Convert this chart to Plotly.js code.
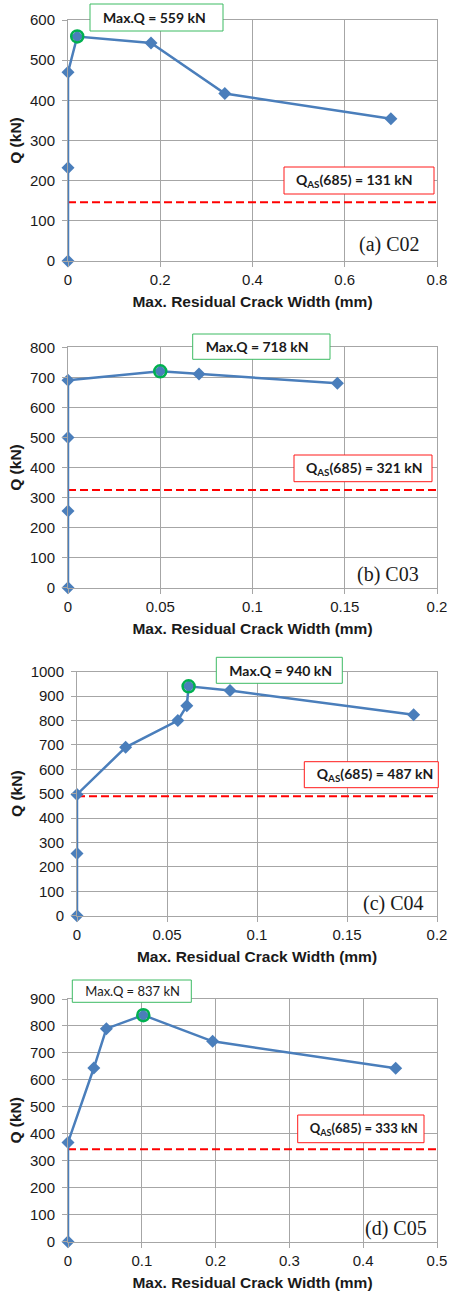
<!DOCTYPE html>
<html>
<head>
<meta charset="utf-8">
<script src="https://cdn.plot.ly/plotly-3.0.1.min.js"></script>
<style>html,body{margin:0;padding:0;background:#fff}#chart{width:449px;height:1293px}</style>
</head>
<body>
<div id="chart"></div>
<script>
// ---- data ----
const crackA = [0, 0, 0, 0.02, 0.18, 0.34, 0.70];
const loadA  = [0, 232, 470, 559, 543, 417, 354];
const crackB = [0, 0, 0, 0, 0.05, 0.071, 0.146];
const loadB  = [0, 255, 500, 690, 720, 711, 680];
const crackC = [0, 0, 0, 0.027, 0.056, 0.061, 0.062, 0.085, 0.187];
const loadC  = [0, 255, 497, 690, 800, 860, 940, 923, 824];
const crackD = [0, 0, 0.035, 0.052, 0.102, 0.196, 0.444];
const loadD  = [0, 368, 644, 790, 840, 743, 643];
const maxPtX = [0.02, 0.05, 0.062, 0.102];
const maxPtY = [559, 720, 940, 840];
const qasLine = [146, 325, 490, 343];
const xMax = [0.8, 0.2, 0.2, 0.5];
const yMax = [600, 800, 1000, 900];
const xStep = [0.2, 0.05, 0.05, 0.1];
const panelLabels = ['(a) C02', '(b) C03', '(c) C04', '(d) C05'];
const maxLabels = ['Max.Q = 559 kN', 'Max.Q = 718 kN', 'Max.Q = 940 kN', 'Max.Q = 837 kN'];
const qasLabels = ['Q<sub>AS</sub>(685) = 131 kN', 'Q<sub>AS</sub>(685) = 321 kN', 'Q<sub>AS</sub>(685) = 487 kN', 'Q<sub>AS</sub>(685) = 333 kN'];
const xTitle = 'Max. Residual Crack Width (mm)';
const yTitle = 'Q (kN)';

const crackSets = [crackA, crackB, crackC, crackD];
const loadSets = [loadA, loadB, loadC, loadD];

// ---- geometry (pixels) ----
const W = 449, H = 1293;
const px = v => v / W;
const py = v => 1 - v / H;
const plotL = [68, 68, 77, 68];
const plotR = 437;
const plotT = [20, 347.3, 671.7, 999];
const plotB = [261, 587.7, 915.7, 1241.7];
const maxBox = [[90,223,4,31],[192.7,330,334,359.3],[216.3,342.3,657.3,683.3],[72.3,191.3,980,1002.3]];
const maxPad = [10, 10, 10, 10];
const qasBox = [[284,434,167,194],[294,432,455,481.7],[304.3,438.3,761.7,787.7],[297.7,424,1115,1142.7]];
const qasPad = [9, 9, 9.5, 9];
const labelPos = [[422,244],[421,575],[426,903],[429,1228]];

const blue = '#4a7ebb';
const gridC = '#a6a6a6';
const sans = 'Liberation Sans, Arial, sans-serif';
const calib = 'Lato, Carlito, Calibri, sans-serif';

const traces = [];
const layout = {
  width: W, height: H,
  margin: {l:0, r:0, t:0, b:0},
  paper_bgcolor: '#fff', plot_bgcolor: '#fff',
  showlegend: false,
  annotations: [], shapes: []
};

for (let i = 0; i < 4; i++) {
  const n = i === 0 ? '' : String(i + 1);
  const xa = 'x' + n, ya = 'y' + n;
  traces.push({
    x: [0, xMax[i]], y: [qasLine[i], qasLine[i]], xaxis: xa, yaxis: ya,
    mode: 'lines', line: {color: '#ff0000', width: 2, dash: '8px,4px'}, hoverinfo: 'skip'
  });
  traces.push({
    x: crackSets[i], y: loadSets[i], xaxis: xa, yaxis: ya, cliponaxis: false,
    mode: 'lines+markers', line: {color: blue, width: 2.5},
    marker: {symbol: 'diamond', size: 10, color: blue}
  });
  traces.push({
    x: [maxPtX[i]], y: [maxPtY[i]], xaxis: xa, yaxis: ya, cliponaxis: false,
    mode: 'markers', marker: {symbol: 'circle-open', size: 12, color: '#00b050', line: {width: 2.5, color: '#00b050'}}
  });
  const common = {
    showgrid: true, gridcolor: gridC, gridwidth: 1,
    showline: true, linecolor: gridC, linewidth: 1, mirror: true,
    ticks: 'outside', ticklen: 5, tickcolor: gridC,
    tickfont: {family: sans, size: 15, color: '#1a1a1a'},
    zeroline: false, fixedrange: true, automargin: false
  };
  layout['xaxis' + n] = Object.assign({}, common, {
    domain: [px(plotL[i]), px(plotR)], anchor: ya,
    range: [0, xMax[i]], autorange: false, dtick: xStep[i], tick0: 0,
    title: {text: '<b>' + xTitle + '</b>', standoff: 9, font: {family: sans, size: 15.5, color: '#1a1a1a'}}
  });
  layout['yaxis' + n] = Object.assign({}, common, {
    domain: [py(plotB[i]), py(plotT[i])], anchor: xa,
    range: [0, yMax[i]], autorange: false, dtick: 100, tick0: 0, ticklabelstandoff: 4,
    title: {text: '<b>' + yTitle + '</b>', standoff: 4, font: {family: sans, size: 15.5, color: '#1a1a1a'}}
  });
  // panel label
  layout.annotations.push({
    xref: 'paper', yref: 'paper', x: px(labelPos[i][0]), y: py(labelPos[i][1]),
    text: panelLabels[i], showarrow: false, xanchor: 'right', yanchor: 'middle',
    font: {family: 'Liberation Serif, Times New Roman, serif', size: 20, color: '#1a1a1a'}
  });
  // boxed labels
  const mb = maxBox[i], qb = qasBox[i];
  layout.shapes.push({type: 'rect', xref: 'paper', yref: 'paper',
    x0: px(mb[0]), x1: px(mb[1]), y0: py(mb[3]), y1: py(mb[2]),
    line: {color: '#3dbb63', width: 1}, fillcolor: '#ffffff', layer: 'above',
    label: {text: i === 3 ? maxLabels[i] : '<b>' + maxLabels[i] + '</b>',
      textposition: 'middle left', padding: maxPad[i],
      font: {family: calib, size: i === 3 ? 13 : 14, color: '#1a1a1a'}}});
  layout.shapes.push({type: 'rect', xref: 'paper', yref: 'paper',
    x0: px(qb[0]), x1: px(qb[1]), y0: py(qb[3]), y1: py(qb[2]),
    line: {color: '#ff1a1a', width: 1}, fillcolor: '#ffffff', layer: 'above',
    label: {text: '<b>' + qasLabels[i] + '</b>',
      textposition: 'middle left', padding: qasPad[i],
      font: {family: calib, size: i === 3 ? 13 : 14, color: '#1a1a1a'}}});
}

Plotly.newPlot('chart', traces, layout, {staticPlot: true, displayModeBar: false});
</script>
</body>
</html>
